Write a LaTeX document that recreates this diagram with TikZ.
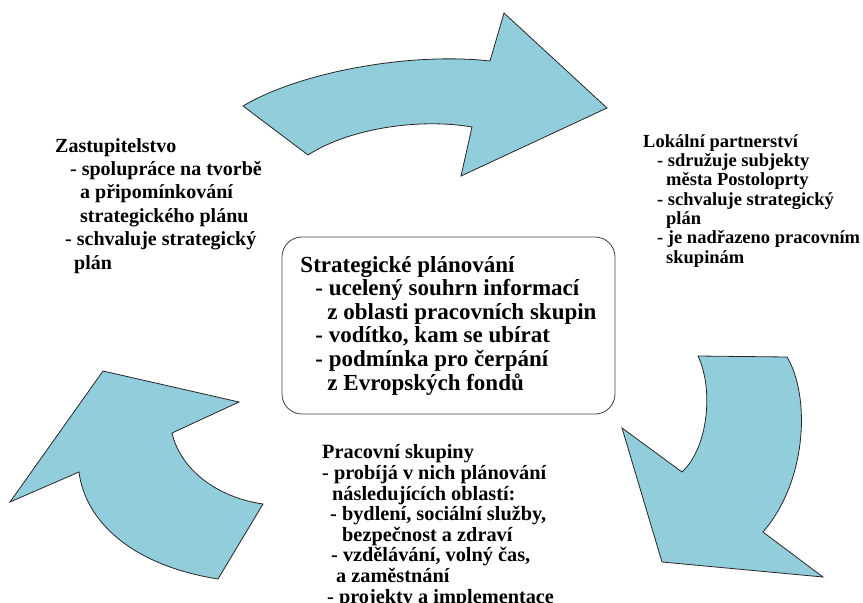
\documentclass[tikz,border=0pt]{standalone}
\usepackage{fontspec}
\setmainfont{Liberation Serif}
\usepackage{xcolor}
\usetikzlibrary{positioning}

\definecolor{turnblue}{HTML}{92CDDC}

\begin{document}
\begin{tikzpicture}[
    x=1pt, y=-1pt,
    every node/.style={align=left, inner sep=0pt},
    box/.style={rectangle, draw=black!75, line width=0.8pt, rounded corners=20pt, minimum width=333pt, minimum height=177pt},
    txt/.style={anchor=base west},
    turn/.style={fill=turnblue, draw=black!85, line width=0.8pt}
]
\useasboundingbox (0,0) rectangle (863,603);

% Arrows
\draw[turn] (243,106) .. controls (300,72) and (410,52) .. (490,61)
    -- (504,13) -- (607,108) -- (461,176) -- (472,127)
    .. controls (420,118) and (350,128) .. (308,155) -- cycle;
\draw[turn] (698,356) -- (787,357) .. controls (810,395) and (808,480) .. (763,532)
    -- (823,577) -- (662,562) -- (622,428) -- (682,472)
    .. controls (708,448) and (714,390) .. (698,356) -- cycle;
\draw[turn] (218,579) -- (263,504) .. controls (215,497) and (180,468) .. (172,433)
    -- (239,402) -- (103,371) -- (10,502) -- (79,472)
    .. controls (85,520) and (130,565) .. (218,579) -- cycle;

% Nodes (base anchor sits on the last line)
\node[box, font=\bfseries\fontsize{23}{23.6}\selectfont] (plan) at (448.5,325.5)
    {Strategické plánování\\
     \hspace*{15pt}- ucelený souhrn informací\\
     \hspace*{27pt}z oblasti pracovních skupin\\
     \hspace*{15pt}- vodítko, kam se ubírat\\
     \hspace*{15pt}- podmínka pro čerpání\\
     \hspace*{27pt}z Evropských fondů};

\node[txt, font=\bfseries\fontsize{20}{23.4}\selectfont] (council) at (55,269)
    {Zastupitelstvo\\
     \hspace*{15pt}- spolupráce na tvorbě\\
     \hspace*{25pt}a připomínkování\\
     \hspace*{25pt}strategického plánu\\
     \hspace*{10pt}- schvaluje strategický\\
     \hspace*{19pt}plán};

\node[txt, font=\bfseries\fontsize{18.5}{19.3}\selectfont] (partners) at (643,263)
    {Lokální partnerství\\
     \hspace*{14pt}- sdružuje subjekty\\
     \hspace*{23pt}města Postoloprty\\
     \hspace*{14pt}- schvaluje strategický\\
     \hspace*{23pt}plán\\
     \hspace*{14pt}- je nadřazeno pracovním\\
     \hspace*{23pt}skupinám};

\node[txt, font=\bfseries\fontsize{20.3}{20.6}\selectfont] (groups) at (322,603)
    {Pracovní skupiny\\
     - probíjá v nich plánování\\
     \hspace*{10pt}následujících oblastí:\\
     \hspace*{8pt}- bydlení, sociální služby,\\
     \hspace*{20pt}bezpečnost a zdraví\\
     \hspace*{9pt}- vzdělávání, volný čas,\\
     \hspace*{14pt}a zaměstnání\\
     \hspace*{5pt}- projekty a implementace};

\end{tikzpicture}
\end{document}
